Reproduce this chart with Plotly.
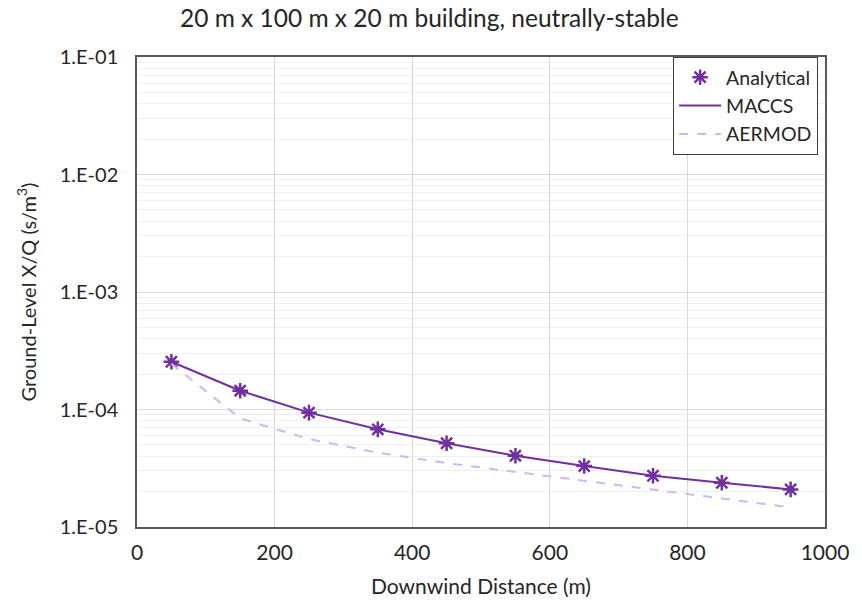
import plotly.graph_objects as go

distance = [50, 150, 250, 350, 450, 550, 650, 750, 850, 950]
analytical = [2.55e-4, 1.445e-4, 9.4e-5, 6.78e-5, 5.16e-5, 4.04e-5, 3.30e-5, 2.73e-5, 2.38e-5, 2.09e-5]
maccs = [2.55e-4, 1.445e-4, 9.4e-5, 6.78e-5, 5.16e-5, 4.04e-5, 3.30e-5, 2.73e-5, 2.38e-5, 2.09e-5]
aermod = [2.45e-4, 8.4e-5, 5.6e-5, 4.3e-5, 3.5e-5, 2.95e-5, 2.5e-5, 2.1e-5, 1.75e-5, 1.47e-5]

y_tickvals = [1e-5, 1e-4, 1e-3, 1e-2, 1e-1]
y_ticktext = ["1.E-05", "1.E-04", "1.E-03", "1.E-02", "1.E-01"]
x_tickvals = [0, 200, 400, 600, 800, 1000]

PURPLE = "#7030A0"
LAVENDER = "#CDB8F0"
FONT = "Lato"
TEXT = "#262626"

fig = go.Figure()
fig.add_trace(go.Scatter(
    x=distance, y=analytical, mode="markers", name="Analytical",
    marker=dict(symbol="asterisk-open", size=13, color=PURPLE,
                line=dict(color=PURPLE, width=2.5)),
))
fig.add_trace(go.Scatter(
    x=distance, y=maccs, mode="lines", name="MACCS",
    line=dict(color=PURPLE, width=2),
))
fig.add_trace(go.Scatter(
    x=distance, y=aermod, mode="lines", name="AERMOD",
    line=dict(color=LAVENDER, width=2, dash="dash"),
))

fig.update_layout(
    width=862, height=603,
    margin=dict(l=137, r=37, t=57, b=76, autoexpand=False),
    paper_bgcolor="white", plot_bgcolor="white",
    font=dict(family=FONT, size=20, color=TEXT),
    title=dict(text="20 m x 100 m x 20 m building, neutrally-stable",
               x=0.498, xanchor="center", xref="container",
               y=0.970, yanchor="middle", yref="container",
               font=dict(family=FONT, size=24.5, color=TEXT)),
    showlegend=True,
    legend=dict(x=0.99, xanchor="right", y=1.0, yanchor="top",
                bgcolor="white", bordercolor="#404040", borderwidth=1,
                font=dict(family=FONT, size=19.5, color=TEXT),
                tracegroupgap=0, itemwidth=42),
)

fig.update_xaxes(
    range=[0, 1000], tickvals=x_tickvals, ticks="",
    showgrid=True, gridcolor="#D9D9D9", gridwidth=1,
    showline=True, linecolor="#595959", linewidth=1.5, mirror=True,
    zeroline=False, automargin=False, ticklabelstandoff=6,
    title=dict(text="Downwind Distance (m)", font=dict(family=FONT, size=21, color=TEXT), standoff=16),
    tickfont=dict(family=FONT, size=21, color=TEXT),
)
fig.update_yaxes(
    type="log", range=[-5, -1], tickvals=y_tickvals, ticktext=y_ticktext, ticks="",
    showgrid=True, gridcolor="#D9D9D9", gridwidth=1,
    minor=dict(showgrid=True, gridcolor="#EFEFEF", gridwidth=1, dtick="D1", ticks=""),
    showline=True, linecolor="#595959", linewidth=1.5, mirror=True,
    zeroline=False, automargin=False, ticklabelstandoff=13,
    title=dict(text="Ground-Level X/Q (s/m<sup>3</sup>)", font=dict(family=FONT, size=20, color=TEXT), standoff=18),
    tickfont=dict(family=FONT, size=20, color=TEXT),
)

fig.write_html("out.html", config={"displayModeBar": False},
               post_script="document.body.style.margin='0';")
